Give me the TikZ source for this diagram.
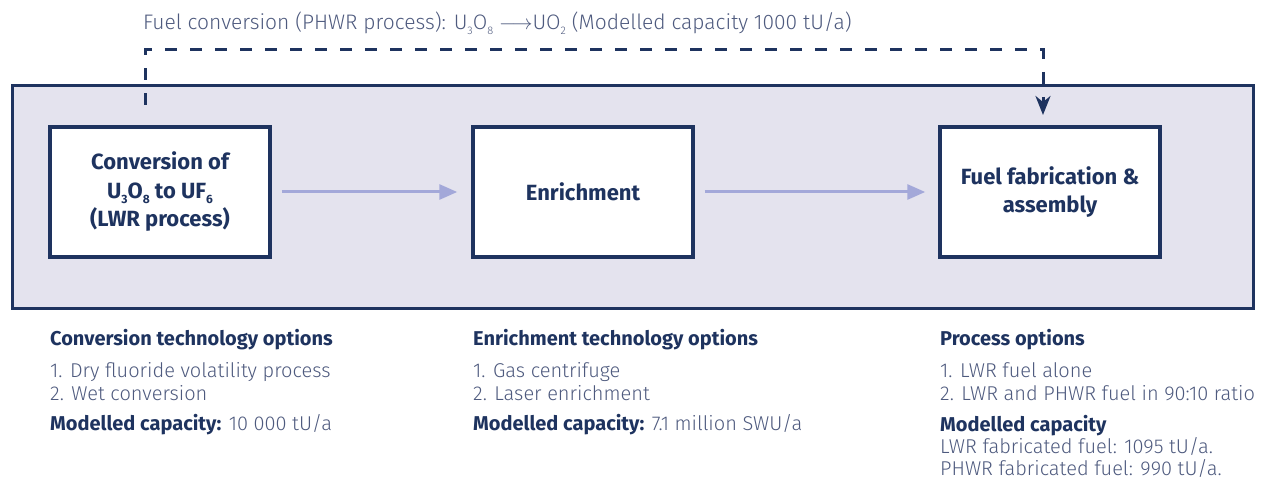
\documentclass[tikz,border=0pt]{standalone}
\usepackage{fontspec}
\setmainfont{Fira Sans}
\newfontfamily\lightfont{Fira Sans Light}
\usetikzlibrary{arrows.meta}
\definecolor{navy}{HTML}{1E335F}
\definecolor{lav}{HTML}{E4E3EE}
\definecolor{flow}{HTML}{A3A8D9}
\definecolor{soft}{HTML}{4E5A7E}
\newcommand{\lowsub}[2][12]{\raisebox{-5pt}{\fontsize{#1}{#1}\selectfont #2}}
\tikzset{
  frame/.style={draw=navy, line width=3pt, fill=lav},
  stage/.style={draw=navy, line width=3.5pt, fill=white, minimum width=220pt, minimum height=130pt,
    inner sep=0pt, align=center, text=navy, font=\fontsize{22}{28.5}\selectfont\bfseries},
  flowarrow/.style={draw=flow, line width=3pt, -{Triangle[length=18pt,width=15pt]}},
  pharr/.style={draw=navy, line width=3pt, dash pattern=on 12pt off 13pt,
    -{Stealth[length=19pt,width=15pt,inset=6pt]}},
  head/.style={anchor=base west, inner sep=0pt, text=navy, font=\fontsize{20}{24}\selectfont\bfseries},
  body/.style={anchor=base west, inner sep=0pt, text=soft, font=\fontsize{20}{24}\selectfont\lightfont},
}
\begin{document}
\begin{tikzpicture}[x=1pt,y=-1pt]
\useasboundingbox (0,0) rectangle (1267,481);
\path[frame] (12,86) rectangle (1253,308);
\node[stage] (conv) at (160,192) {Conversion of\\U\lowsub{3}O\lowsub{8} to UF\lowsub{6}\\(LWR process)};
\node[stage] (enr) at (583,192) {Enrichment};
\node[stage] (fab) at (1050,192) {Fuel fabrication \&\\assembly};
\draw[flowarrow] ([xshift=10pt]conv.east) -- ([xshift=-14pt]enr.west);
\draw[flowarrow] ([xshift=10pt]enr.east) -- ([xshift=-13pt]fab.west);
\coordinate (pstart) at (145,105);
\coordinate (ptip) at (1043,115);
\draw[pharr] (pstart) -- (145,50) -- (1043,50) -- (ptip);
\node[body, anchor=base west, font=\fontsize{21}{24}\selectfont\lightfont] (title) at (143,30) {Fuel conversion (PHWR process): U\lowsub[11]{3}O\lowsub[11]{8} $\longrightarrow$UO\lowsub[11]{2} (Modelled capacity 1000 tU/a)};
% left column
\node[head] (h1) at (50,345) {Conversion technology options};
\node[body] (a1) at (50,377) {1. Dry fluoride volatility process};
\node[body] (a2) at (50,400) {2. Wet conversion};
\node[body] (a3) at (50,430) {{\fontspec{Fira Sans}\bfseries\color{navy}Modelled capacity:} 10 000 tU/a};
% middle column
\node[head] (h2) at (473,345) {Enrichment technology options};
\node[body] (b1) at (473,377) {1. Gas centrifuge};
\node[body] (b2) at (473,400) {2. Laser enrichment};
\node[body] (b3) at (473,430) {{\fontspec{Fira Sans}\bfseries\color{navy}Modelled capacity:} 7.1 million SWU/a};
% right column
\node[head] (h3) at (940,345) {Process options};
\node[body] (c1) at (940,377) {1. LWR fuel alone};
\node[body] (c2) at (940,400) {2. LWR and PHWR fuel in 90:10 ratio};
\node[head] (c3) at (940,431) {Modelled capacity};
\node[body] (c4) at (940,453) {LWR fabricated fuel: 1095 tU/a.};
\node[body] (c5) at (940,475) {PHWR fabricated fuel: 990 tU/a.};
\end{tikzpicture}
\end{document}
